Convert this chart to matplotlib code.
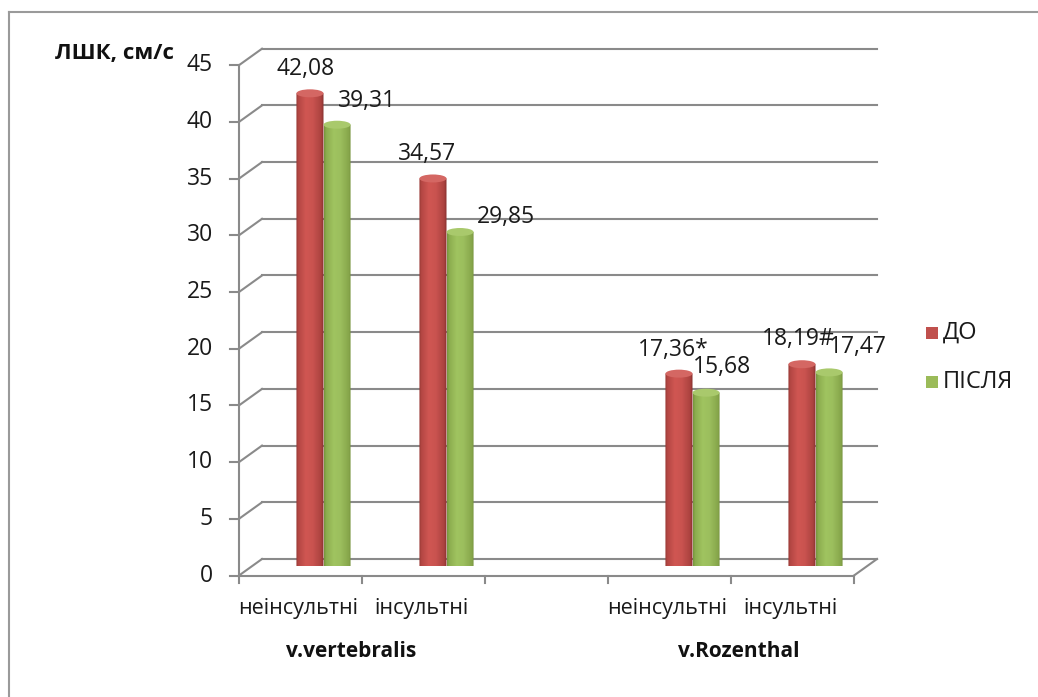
import numpy as np
import matplotlib
matplotlib.use("Agg")
import matplotlib.pyplot as plt
from matplotlib.patches import Ellipse, Rectangle, PathPatch
from matplotlib.path import Path
from matplotlib.lines import Line2D

# ---------------- data ----------------
categories = ["неінсультні", "інсультні", "", "неінсультні", "інсультні"]
groups = ["v.vertebralis", "v.Rozenthal"]
series = ["ДО", "ПІСЛЯ"]
do_values = [42.08, 34.57, None, 17.36, 18.19]
pislya_values = [39.31, 29.85, None, 15.68, 17.47]
do_marks = ["", "", "", "*", "#"]
pislya_marks = ["", "", "", "", ""]
y_ticks = [0, 5, 10, 15, 20, 25, 30, 35, 40, 45]
y_label = "ЛШК, см/с"

# ---------------- layout / style ----------------
W, H = 1038, 697
plt.rcParams['font.family'] = ['Open Sans', 'DejaVu Sans']
fig = plt.figure(figsize=(W / 100, H / 100), dpi=100)
ax_left, ax_right = 262, 877
ax_y0, ax_y45 = 566.5, 566.5 - 45 * 11.34
ax = fig.add_axes([ax_left / W, (H - ax_y0) / H, (ax_right - ax_left) / W, (ax_y0 - ax_y45) / H])
ax.set_xlim(-0.5, len(categories) - 0.5)
ax.set_ylim(0, 45)
ax.axis("off")

pxu = (ax_right - ax_left) / len(categories)   # px per category
pyu = (ax_y0 - ax_y45) / 45.0                    # px per value unit

def dx(px):
    return px / pxu

def dy(px):
    return px / pyu

BACK = (0.0, 7.5)
FRONT = (-23.0, -9.0)
grid_col = "#8a8a8a"
lw_grid = 1.5
txt_col = "#1a1a1a"
fs_num = 16.5
fs_cat = 15.5

def P(x, y, off):
    return x + dx(off[0]), y + dy(off[1])

xa, xb = -0.5, len(categories) - 0.5
# back wall gridlines and left diagonals
for v in y_ticks:
    x1, y1 = P(xa, v, BACK)
    x2, y2 = P(xb, v, BACK)
    ax.plot([x1, x2], [y1, y2], color=grid_col, lw=lw_grid, clip_on=False, zorder=1)
    fx, fy = P(xa, v, FRONT)
    ax.plot([fx, x1], [fy, y1], color=grid_col, lw=lw_grid, clip_on=False, zorder=1)
    ax.plot([fx - dx(9), fx], [fy, fy], color=grid_col, lw=lw_grid, clip_on=False, zorder=1)
    ax.text(fx - dx(26), fy, str(v), ha="right", va="center", fontsize=fs_num, color=txt_col)

# front vertical axis
fx0, fy0 = P(xa, 0, FRONT)
fx1, fy1 = P(xa, 45, FRONT)
ax.plot([fx0, fx1], [fy0, fy1], color=grid_col, lw=lw_grid, clip_on=False, zorder=1)
# floor front line and right diagonal
gx, gy = P(xb, 0, FRONT)
bx, by = P(xb, 0, BACK)
ax.plot([fx0, gx], [fy0, gy], color=grid_col, lw=lw_grid, clip_on=False, zorder=1)
ax.plot([gx, bx], [gy, by], color=grid_col, lw=lw_grid, clip_on=False, zorder=1)
for i in range(len(categories) + 1):
    tx, ty = P(-0.5 + i, 0, FRONT)
    ax.plot([tx, tx], [ty, ty - dy(7)], color=grid_col, lw=lw_grid, clip_on=False, zorder=1)

# category labels
for i, c in enumerate(categories):
    if c:
        tx, ty = P(i, 0, FRONT)
        ax.text(tx - dx(2), ty - dy(33), c, ha="center", va="center", fontsize=fs_cat, color=txt_col)

# group labels
for gi, g in enumerate(groups):
    cx = (0.5 if gi == 0 else 3.5)
    tx, ty = P(cx, 0, FRONT)
    ax.text(tx + dx(-11 if gi == 0 else 8), ty - dy(76), g, ha="center", va="center", fontsize=15,
            fontweight="bold", color="#111111")

# ---------------- cylinders ----------------
bar_w = 0.22
e_px = 4.0

def grad_colors(base_dark_l, base_mid, base_dark_r, n=64):
    t = np.linspace(0, 1, n)
    cols = np.zeros((1, n, 3))
    for k in range(3):
        cols[0, :, k] = np.interp(t, [0, 0.08, 0.35, 0.6, 0.9, 1.0],
                                  [base_dark_l[k], (base_dark_l[k] + base_mid[k]) / 2,
                                   base_mid[k], base_mid[k] * 0.97,
                                   (base_mid[k] + base_dark_r[k]) / 2, base_dark_r[k]])
    return cols / 255.0

red_grad = grad_colors((150, 55, 52), (208, 86, 82), (135, 48, 46))
green_grad = grad_colors((120, 150, 62), (160, 196, 96), (108, 135, 52))
red_top = "#d46763"
green_top = "#a9c96c"

def cylinder(xc, v, grad, topc):
    x0, x1 = xc - bar_w / 2, xc + bar_w / 2
    e = dy(e_px)
    ytop = v - e
    th = np.linspace(np.pi, 2 * np.pi, 40)
    bottom = [(xc + bar_w / 2 * np.cos(t), e * np.sin(t)) for t in th]
    verts = [(x0, ytop)] + [(x0, 0)] + bottom + [(x1, ytop), (x0, ytop)]
    codes = [Path.MOVETO] + [Path.LINETO] * (len(verts) - 2) + [Path.CLOSEPOLY]
    body = PathPatch(Path(verts, codes), facecolor="none", edgecolor="none")
    ax.add_patch(body)
    im = ax.imshow(grad, extent=[x0, x1, -e, ytop], aspect="auto", zorder=3,
                   interpolation="bilinear")
    im.set_clip_path(body)
    ax.add_patch(Ellipse((xc, ytop), bar_w, 2 * e, facecolor=topc, edgecolor="none", zorder=4))

red_lbl_dx = [-4, -6, 0, -6, -4]
green_lbl_dx = [30, 46, 0, 16, 29]
lbl_rise = [14, 14, 0, 14, 15]
green_rise = [14, 5, 0, 16, 15]

def fmt(v, m):
    return ("%.2f" % v).replace(".", ",") + m

for i in range(len(categories)):
    if do_values[i] is None:
        continue
    rc = i - bar_w / 2
    gc = i + bar_w / 2
    cylinder(rc, do_values[i], red_grad, red_top)
    cylinder(gc, pislya_values[i], green_grad, green_top)
    ax.text(rc + dx(red_lbl_dx[i]), do_values[i] + dy(lbl_rise[i]), fmt(do_values[i], do_marks[i]),
            ha="center", va="baseline", fontsize=fs_num, color=txt_col, zorder=6)
    ax.text(gc + dx(green_lbl_dx[i]), pislya_values[i] + dy(green_rise[i]),
            fmt(pislya_values[i], pislya_marks[i]),
            ha="center", va="baseline", fontsize=fs_num, color=txt_col, zorder=6)

# ---------------- legend ----------------
def fx_(x):
    return x / W

def fy_(y):
    return 1 - y / H

for s, col, yc in [(series[0], "#c0504d", 333), (series[1], "#9bbb59", 382)]:
    fig.patches.append(Rectangle((fx_(926), fy_(yc + 6)), 12 / W, 12 / H, transform=fig.transFigure,
                                 facecolor=col, edgecolor="none"))
    fig.text(fx_(943), fy_(yc), s, ha="left", va="center", fontsize=17, color=txt_col)

# y-axis title
fig.text(fx_(55), fy_(53), y_label, ha="left", va="center", fontsize=16, fontweight="bold",
         color="#111111")

# frame (top and left border)
fig.lines.append(Line2D([fx_(9), fx_(9)], [fy_(12), 0], transform=fig.transFigure, color="#9a9a9a", lw=1.5))
fig.lines.append(Line2D([fx_(9), 1], [fy_(12), fy_(12)], transform=fig.transFigure, color="#9a9a9a", lw=1.5))

fig.savefig("out.png", dpi=100)
